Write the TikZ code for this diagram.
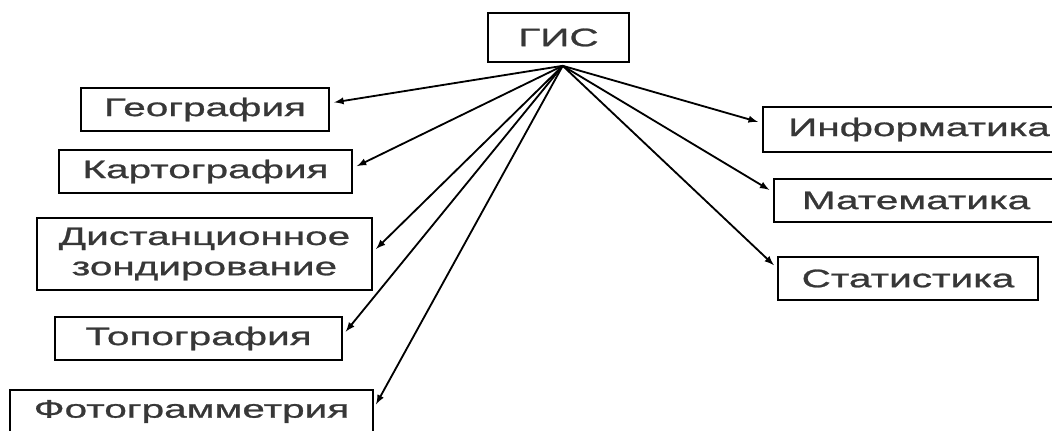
\documentclass[tikz,border=0pt]{standalone}
\usepackage{fontspec}
\setmainfont{Liberation Sans}[FakeStretch=1.6,FakeBold=1]
\usetikzlibrary{arrows}

\definecolor{textgray}{RGB}{55,55,55}
\tikzset{
  box/.style={draw, line width=1.4pt, inner sep=0pt, text=textgray,
    font=\fontsize{18}{21.5}\selectfont, align=center},
  link/.style={->, >=latex, line width=1.3pt, shorten >=3pt}
}

\begin{document}
\begin{tikzpicture}[x=0.025cm, y=-0.025cm]
			\useasboundingbox (0,0) rectangle (1052,430);
			\clip (0,0) rectangle (1052,430);
			\node[box, minimum width=3.525cm, minimum height=1.225cm] (gis) at (558.5,37.5) {ГИС};
			\node[box, minimum width=6.2cm, minimum height=1.075cm] (geo) at (205,109.5) {География};
			\node[box, minimum width=7.325cm, minimum height=1.075cm] (kart) at (205.5,171.5) {Картография};
			\node[box, minimum width=8.375cm, minimum height=1.8cm] (dist) at (204.5,254) {Дистанционное\\зондирование};
			\node[box, minimum width=7.175cm, minimum height=1.075cm] (topo) at (198.5,338.5) {Топография};
			\node[box, minimum width=9.075cm, minimum height=1.075cm] (foto) at (191.5,411.5) {Фотограмметрия};
			\node[box, minimum width=7.8cm, minimum height=1.125cm] (inf) at (919,129.5) {Информатика};
			\node[box, minimum width=7.1cm, minimum height=1.075cm] (mat) at (916,200.5) {Математика};
			\node[box, minimum width=6.5cm, minimum height=1.075cm] (stat) at (908,278.5) {Статистика};
			\coordinate (hub) at ([xshift=3pt,yshift=-2pt]gis.south);
			% left branch
			\draw[link] (hub) -- ([yshift=4.6pt]geo.east);
			\draw[link] (hub) -- ([yshift=2.5pt]kart.east);
			\draw[link] (hub) -- ([yshift=1.5pt]dist.east);
			\draw[link] (hub) -- ([yshift=2.5pt]topo.east);
			\draw[link] (hub) -- ([yshift=2.5pt]foto.east);
			% right branch
			\draw[link] (hub) -- ([yshift=4.6pt]inf.west);
			\draw[link] (hub) -- ([yshift=6pt]mat.west);
			\draw[link] (hub) -- ([yshift=7.4pt]stat.west);
		\end{tikzpicture}
\end{document}
